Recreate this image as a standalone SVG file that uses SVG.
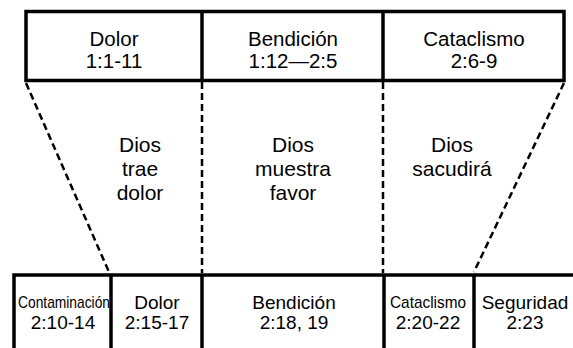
<svg xmlns="http://www.w3.org/2000/svg" width="573" height="348" viewBox="0 0 573 348">
<style>
.box{fill:none;stroke:#000;stroke-width:3.5}
.div{stroke:#000;stroke-width:3.5}
.dash{stroke:#000;stroke-width:2.5;stroke-dasharray:7 4;fill:none}
text{font-family:"Liberation Sans",Arial,sans-serif;fill:#000;text-anchor:middle}
.t{font-size:20.5px}
.m{font-size:21px}
.b{font-size:19px}
.n{font-size:17px}
</style>
<rect width="573" height="348" fill="#fff"/>
<g id="top-box">
<rect class="box" x="26" y="11.5" width="538" height="69"/>
<line class="div" x1="202" y1="11.5" x2="202" y2="80.5"/>
<line class="div" x1="383" y1="11.5" x2="383" y2="80.5"/>
</g>
<g id="top-dolor"><text class="t" x="114" y="46">Dolor</text><text class="t" x="114" y="68">1:1-11</text></g>
<g id="top-bendicion"><text class="t" x="293" y="46">Bendición</text><text class="t" x="293" y="68">1:12—2:5</text></g>
<g id="top-cataclismo"><text class="t" x="474" y="46">Cataclismo</text><text class="t" x="474" y="68">2:6-9</text></g>
<g id="connectors">
<line class="dash" x1="26" y1="83" x2="109" y2="272"/>
<line class="dash" x1="202" y1="82" x2="202" y2="273"/>
<line class="dash" x1="383" y1="82" x2="383" y2="273"/>
<line class="dash" x1="564" y1="83" x2="474" y2="272"/>
</g>
<g id="mid-dolor"><text class="m" x="140" y="152">Dios</text><text class="m" x="140" y="176">trae</text><text class="m" x="140" y="200">dolor</text></g>
<g id="mid-favor"><text class="m" x="293" y="152">Dios</text><text class="m" x="293" y="176">muestra</text><text class="m" x="293" y="200">favor</text></g>
<g id="mid-sacudira"><text class="m" x="452" y="152">Dios</text><text class="m" x="452" y="176">sacudirá</text></g>
<g id="bottom-box">
<polyline class="box" points="14,348 14,275 573,275"/>
<line class="div" x1="111" y1="275" x2="111" y2="348"/>
<line class="div" x1="202" y1="275" x2="202" y2="348"/>
<line class="div" x1="384" y1="275" x2="384" y2="348"/>
<line class="div" x1="474" y1="275" x2="474" y2="348"/>
</g>
<g id="b-contaminacion"><text class="n" x="64" y="308" textLength="92" lengthAdjust="spacingAndGlyphs">Contaminación</text><text class="b" x="63" y="329">2:10-14</text></g>
<g id="b-dolor"><text class="b" x="157" y="309">Dolor</text><text class="b" x="157" y="329">2:15-17</text></g>
<g id="b-bendicion"><text class="b" x="294" y="309">Bendición</text><text class="b" x="294" y="329">2:18, 19</text></g>
<g id="b-cataclismo"><text class="n" x="428" y="308" textLength="76" lengthAdjust="spacingAndGlyphs">Cataclismo</text><text class="b" x="428" y="329">2:20-22</text></g>
<g id="b-seguridad"><text class="b" x="525" y="309">Seguridad</text><text class="b" x="525" y="329">2:23</text></g>
</svg>
